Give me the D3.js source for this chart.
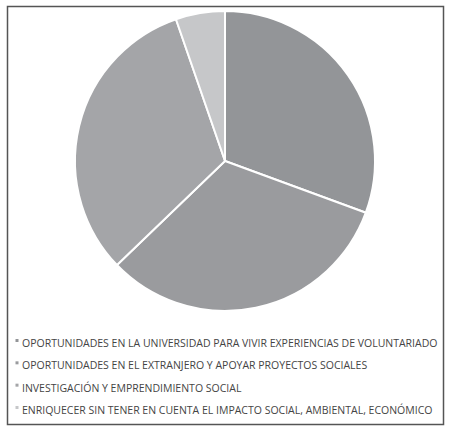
<!DOCTYPE html>
<html>
<head>
<meta charset="utf-8">
<script src="https://cdn.jsdelivr.net/npm/d3@7"></script>
<style>
  body { margin: 0; background: #fff; }
  svg { display: block; }
</style>
</head>
<body>
<div id="chart"></div>
<script>
const categories = [
  'OPORTUNIDADES EN LA UNIVERSIDAD PARA VIVIR EXPERIENCIAS DE VOLUNTARIADO',
  'OPORTUNIDADES EN EL EXTRANJERO Y APOYAR PROYECTOS SOCIALES',
  'INVESTIGACIÓN Y EMPRENDIMIENTO SOCIAL',
  'ENRIQUECER SIN TENER EN CUENTA EL IMPACTO SOCIAL, AMBIENTAL, ECONÓMICO'
];
const values = [30.6, 32.2, 31.9, 5.3];
const colors = ['#939598', '#9a9b9e', '#a4a5a8', '#c6c7c9'];

const width = 450;
const height = 430;
const radius = 150;

const svg = d3.select('#chart')
    .append('svg')
    .attr('width', width)
    .attr('height', height);

// marco
svg.append('rect')
    .attr('x', 7.5)
    .attr('y', 6.5)
    .attr('width', 436)
    .attr('height', 418)
    .attr('fill', 'none')
    .attr('stroke', '#555')
    .attr('stroke-width', 1.5);

const pieData = d3.pie().sort(null)(values);
const arc = d3.arc().innerRadius(0).outerRadius(radius);

const g = svg.append('g')
    .attr('transform', 'translate(225,161)');

g.selectAll('path')
    .data(pieData)
    .enter()
    .append('path')
    .attr('d', arc)
    .attr('fill', (d, i) => colors[i])
    .attr('stroke', '#fff')
    .attr('stroke-width', 2);

// leyenda
const legendY = d3.scalePoint()
    .domain(categories)
    .range([347, 414]);

const legend = svg.append('g');

const items = legend.selectAll('g')
    .data(categories)
    .enter()
    .append('g')
    .attr('transform', d => `translate(0,${legendY(d)})`);

items.append('rect')
    .attr('x', 15.5)
    .attr('y', -8)
    .attr('width', 3)
    .attr('height', 3)
    .attr('fill', (d, i) => colors[i]);

items.append('text')
    .attr('x', 22)
    .attr('y', 0)
    .attr('fill', '#444')
    .style('font-family', 'Open Sans, sans-serif')
    .style('font-size', '10.5px')
    .text(d => d);
</script>
</body>
</html>
